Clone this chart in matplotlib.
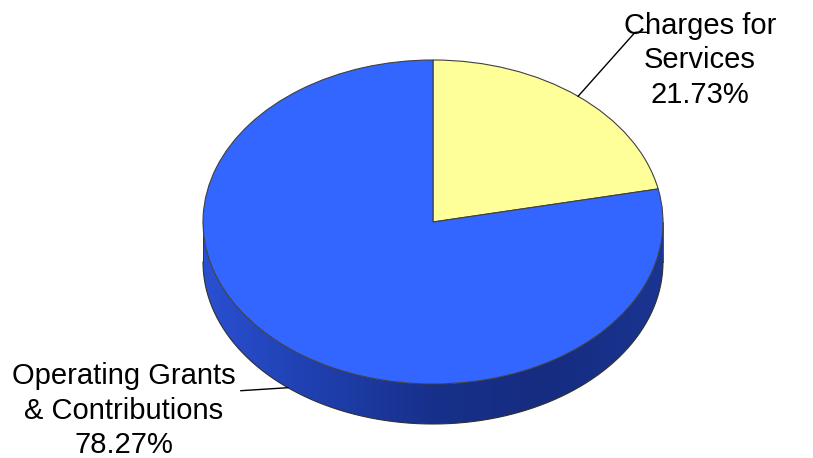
import matplotlib
matplotlib.use("Agg")
import matplotlib.pyplot as plt
import numpy as np
from matplotlib.path import Path
from matplotlib.patches import PathPatch
from matplotlib.colors import LinearSegmentedColormap

# program revenue shares
labels = ["Charges for\nServices", "Operating Grants\n& Contributions"]
shares = [21.73, 78.27]
colors = ["#FFFF99", "#3366FF"]

plt.rcParams['font.family'] = ['Liberation Sans', 'DejaVu Sans']

W, H = 813, 458
fig = plt.figure(figsize=(W / 100, H / 100), dpi=100)
ax = fig.add_axes([0, 0, 1, 1])

# pie drawn as a unit circle, squashed into an ellipse by the axis limits
cx_px, cy_px = 433, 222      # centre of the top face, pixels from top-left
rx_px, ry_px = 230, 162      # semi axes of the top face
depth = 40 / ry_px           # thickness of the disc in data units

wedges, _ = ax.pie(shares, colors=colors, startangle=90, counterclock=False,
                   wedgeprops=dict(edgecolor="#404040", linewidth=0.8, zorder=3))
ax.set_aspect('auto')
xlim = (-cx_px / rx_px, (W - cx_px) / rx_px)
ylim = (-(H - cy_px) / ry_px, cy_px / ry_px)

# side wall, front half only, with a left-to-right shading
side_cmap = LinearSegmentedColormap.from_list(
    "side", ["#2A50D2", "#1F3FAE", "#17308A", "#152C80", "#1A3592"])
t = np.linspace(np.pi, 2 * np.pi, 181)
verts = np.concatenate([np.column_stack([np.cos(t), np.sin(t)]),
                        np.column_stack([np.cos(t[::-1]), np.sin(t[::-1]) - depth])])
side = PathPatch(Path(verts, closed=False), facecolor="none", edgecolor="none")
ax.add_patch(side)
grad = np.linspace(0, 1, 256).reshape(1, -1)
img = ax.imshow(grad, cmap=side_cmap, extent=(-1, 1, -1 - depth, 0),
                aspect='auto', zorder=1, interpolation='bilinear')
img.set_clip_path(side)
ax.plot(np.cos(t), np.sin(t) - depth, color="#303030", lw=0.8, zorder=2)
ax.plot([-1, -1], [0, -depth], color="#303030", lw=0.6, zorder=2)
ax.plot([1, 1], [0, -depth], color="#303030", lw=0.6, zorder=2)

ax.set_xlim(*xlim)
ax.set_ylim(*ylim)
ax.axis('off')

# labels with leader lines
ends = np.cumsum(shares)
starts = ends - np.array(shares)
mids = 90 - (starts + ends) / 2 * 3.6
px = 1 / rx_px
py = 1 / ry_px

# Charges for Services: anchor on top rim
m = np.radians(mids[0])
ax0, ay0 = np.cos(m), np.sin(m)
ax.plot([ax0, ax0 + 57 * px, ax0 + 69 * px], [ay0, ay0 + 64 * py, ay0 + 64 * py],
        color="black", lw=1.0, zorder=4)
ax.text(ax0 + 122 * px, ay0 + 36 * py, labels[0] + "\n%.2f%%" % shares[0],
        ha="center", va="center", fontsize=21, linespacing=1.3, zorder=5)

# Operating Grants: anchor on bottom of side wall
m = np.radians(mids[1])
bx0, by0 = np.cos(m), np.sin(m) - depth
ax.plot([bx0, bx0 - 47 * px], [by0, by0 - 3 * py], color="black", lw=1.0, zorder=4)
ax.text(bx0 - 164 * px, by0 - 23 * py, labels[1] + "\n%.2f%%" % shares[1],
        ha="center", va="center", fontsize=21, linespacing=1.3, zorder=5)

fig.savefig("out.png", dpi=100)
